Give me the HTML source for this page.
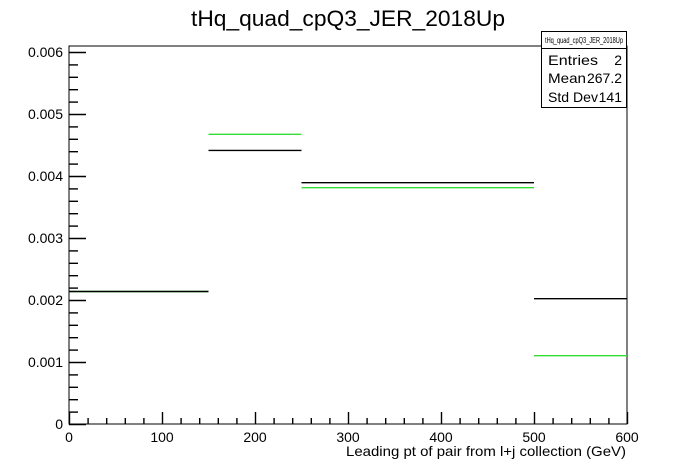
<!DOCTYPE html>
<html><head><meta charset="utf-8"><style>
body{margin:0;background:#fff;}
svg{display:block;font-family:"Liberation Sans",Arial,sans-serif;}
</style></head><body>
<svg id="c" width="696" height="472">
<text x="348" y="26" text-anchor="middle" font-size="22" textLength="314" lengthAdjust="spacingAndGlyphs">tHq_quad_cpQ3_JER_2018Up</text>
<rect x="69" y="46" width="558" height="378" fill="none" stroke="#000" stroke-width="1"/>
<g id="axes"></g>
<g id="bars"></g>
<text x="346" y="456" font-size="14" textLength="280" lengthAdjust="spacingAndGlyphs">Leading pt of pair from l+j collection (GeV)</text>
<g>
<rect x="541.5" y="31.5" width="85" height="76" fill="#fff" stroke="#000"/>
<line x1="541.5" y1="48.5" x2="626.5" y2="48.5" stroke="#000"/>
<text x="584" y="43" text-anchor="middle" font-size="8" textLength="78" lengthAdjust="spacingAndGlyphs">tHq_quad_cpQ3_JER_2018Up</text>
<text x="548" y="65" font-size="14" textLength="50" lengthAdjust="spacingAndGlyphs">Entries</text><text x="622" y="65" font-size="14" text-anchor="end">2</text>
<text x="548" y="83" font-size="14" textLength="38" lengthAdjust="spacingAndGlyphs">Mean</text><text x="622" y="83" font-size="14" text-anchor="end" textLength="35" lengthAdjust="spacingAndGlyphs">267.2</text>
<text x="548" y="102" font-size="14" textLength="50" lengthAdjust="spacingAndGlyphs">Std Dev</text><text x="622" y="102" font-size="14" text-anchor="end">141</text>
</g>
</svg>
<script>
const binEdges=[0,150,250,500,600];
const blackValues=[0.002145,0.00442,0.00390,0.00203];
const greenValues=[0.002145,0.00468,0.00382,0.00111];
const xTicks=[0,100,200,300,400,500,600];
const yTicks=[0,0.001,0.002,0.003,0.004,0.005,0.006];
const yTickLabels=["0","0.001","0.002","0.003","0.004","0.005","0.006"];
const X0=69,X1=627,Y0=424;
const xs=v=>X0+(v/600)*(X1-X0);
const ys=v=>Y0-v*62000;
const NS="http://www.w3.org/2000/svg";
const axes=document.getElementById('axes'),bars=document.getElementById('bars');
function ln(p,x1,y1,x2,y2,col,name){const l=document.createElementNS(NS,'line');
l.setAttribute('x1',x1);l.setAttribute('y1',y1);l.setAttribute('x2',x2);l.setAttribute('y2',y2);
l.setAttribute('stroke',col);l.setAttribute('stroke-width',1.4);


p.appendChild(l);return l;}
function tx(x,y,s,anchor,name){const t=document.createElementNS(NS,'text');
t.setAttribute('x',x);t.setAttribute('y',y);t.setAttribute('text-anchor',anchor);t.setAttribute('font-size','14');t.textContent=s;


axes.appendChild(t);}
for(let v=0;v<=600;v+=20){const X=xs(v)+0.5;ln(axes,X,Y0,X,Y0-(v%100===0?12:6),'#000','x-tick');}
xTicks.forEach(v=>tx(xs(v),442,String(v),'middle','x-tick-label'));
for(let i=0;i<=30;i++){const v=i*0.0002;const Y=ys(v);if(Y<46)break;ln(axes,X0,Y+0.5,X0+(i%5===0?17:9),Y+0.5,'#000','y-tick');}
yTicks.forEach((v,i)=>tx(63,ys(v)+5,yTickLabels[i],'end','y-tick-label'));
for(let i=0;i<blackValues.length;i++){
ln(bars,xs(binEdges[i]),ys(greenValues[i])+0.5,xs(binEdges[i+1]),ys(greenValues[i])+0.5,'#33dd33','green-bin-'+i);
ln(bars,xs(binEdges[i]),ys(blackValues[i])+0.5,xs(binEdges[i+1]),ys(blackValues[i])+0.5,'#000','black-bin-'+i);
}
</script>
</body></html>
